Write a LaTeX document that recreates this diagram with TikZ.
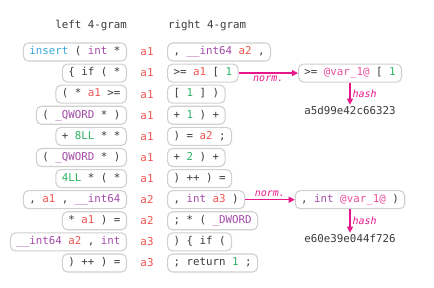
\documentclass[tikz,border=0pt]{standalone}
\usepackage{fontspec}
\usetikzlibrary{arrows.meta,positioning}
\newfontfamily\codefont{DejaVu Sans Mono}
\definecolor{ink}{HTML}{3A3A3A}
\definecolor{boxgrey}{HTML}{D0D0D0}
\definecolor{kwblue}{HTML}{3BA9D9}
\definecolor{typurple}{HTML}{A34AA8}
\definecolor{argred}{HTML}{EF5350}
\definecolor{litgreen}{HTML}{2DB262}
\definecolor{varpink}{HTML}{E8509E}
\definecolor{normpink}{HTML}{E8168B}
\newcommand{\kw}[1]{\textcolor{kwblue}{#1}}
\newcommand{\ty}[1]{\textcolor{typurple}{#1}}
\newcommand{\av}[1]{\textcolor{argred}{#1}}
\newcommand{\lit}[1]{\textcolor{litgreen}{#1}}
\newcommand{\nv}[1]{\textcolor{varpink}{#1}}

\begin{document}
\begin{tikzpicture}[x=1pt,y=-1pt,font=\codefont\fontsize{10.8}{13}\selectfont,text=ink,
  gram/.style={draw=boxgrey,line width=1.1pt,rounded corners=5pt,minimum height=18pt,inner xsep=6pt,inner ysep=0pt,text height=7.8pt,text depth=2.2pt},
  flow/.style={draw=normpink,line width=1.2pt,-{Triangle[length=6pt,width=6pt]}},
  steplbl/.style={text=normpink,font=\codefont\itshape\fontsize{10}{12}\selectfont,inner sep=2pt}]
  \useasboundingbox (0,0) rectangle (434,288);
  % column heads
  \node[anchor=east,inner sep=0pt] (lhead) at (127,26) {left 4-gram};
  \node[anchor=west,inner sep=0pt] (rhead) at (168,26) {right 4-gram};
  % the n-gram pairs round each argument
  \foreach \lt/\mt/\rt [count=\i, evaluate=\i as \y using 52+21.1*(\i-1)] in {
    {\kw{insert} ( \ty{int} *}/a1/{, \ty{\_\_int64} \av{a2} ,},
    {\{ if ( *}/a1/{>= \av{a1} [ \lit{1}},
    {( * \av{a1} >=}/a1/{[ \lit{1} ] )},
    {( \ty{\_QWORD} * )}/a1/{+ \lit{1} ) +},
    {+ \lit{8LL} * *}/a1/{) = \av{a2} ;},
    {( \ty{\_QWORD} * )}/a1/{+ \lit{2} ) +},
    {\lit{4LL} * ( *}/a1/{) ++ ) =},
    {, \av{a1} , \ty{\_\_int64}}/a2/{, \ty{int} \av{a3} )},
    {* \av{a1} ) =}/a2/{; * ( \ty{\_DWORD}},
    {\ty{\_\_int64} \av{a2} , \ty{int}}/a3/{) \{ if (},
    {) ++ ) =}/a3/{; return \lit{1} ;}} {
    \node[gram,anchor=east] (l\i) at (127,\y) {\lt};
    \node (m\i) at (147,\y) {\av{\mt}};
    \node[gram,anchor=west] (r\i) at (167,\y) {\rt};
  }
  % normalisation and hashing
  \node[gram] (n1) at (350,0 |- r2) {>= \nv{@var\_1@} [ \lit{1}};
  \node[inner sep=1pt] (h1) at (350,110) {a5d99e42c66323};
  \draw[flow] (r2.east) -- (n1.west) node[midway,below,steplbl]{norm.};
  \draw[flow] (n1.south) -- (h1.north) node[midway,right,steplbl]{hash};
  \node[gram] (n2) at (350,0 |- r8) {, \ty{int} \nv{@var\_1@} )};
  \node[inner sep=1pt] (h2) at (350,238) {e60e39e044f726};
  \draw[flow] (r8.east) -- (n2.west) node[midway,above,steplbl]{norm.};
  \draw[flow] (n2.south) -- (h2.north) node[midway,right,steplbl]{hash};
\end{tikzpicture}
\end{document}
